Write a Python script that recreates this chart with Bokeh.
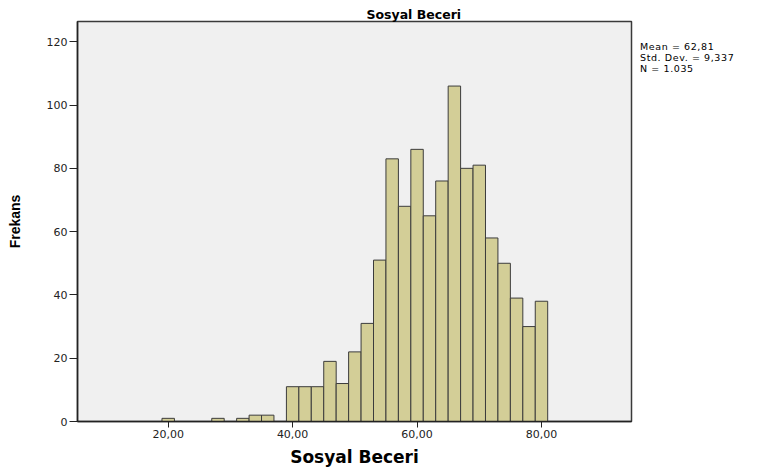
from bokeh.plotting import figure
from bokeh.models import Range1d, FixedTicker, Title, Div
from bokeh.layouts import row
from bokeh.embed import file_html
from bokeh.resources import INLINE

# ---- data ----
bin_centers = [20, 28, 32, 34, 36,
               40, 42, 44, 46, 48, 50, 52, 54, 56, 58, 60, 62, 64, 66, 68, 70,
               72, 74, 76, 78, 80]
counts = [1, 1, 1, 2, 2,
          11, 11, 11, 19, 12, 22, 31, 51, 83, 68, 86, 65, 76, 106, 80, 81,
          58, 50, 39, 30, 38]
x_ticks = [20, 40, 60, 80]
x_tick_labels = ["20,00", "40,00", "60,00", "80,00"]
y_ticks = [0, 20, 40, 60, 80, 100, 120]
y_tick_labels = ["0", "20", "40", "60", "80", "100", "120"]
stats_lines = ["Mean = 62,81", "Std. Dev. = 9,337", "N = 1.035"]
title_text = "Sosyal Beceri"
x_label = "Sosyal Beceri"
y_label = "Frekans"
bin_width = 2

X0, X1 = 5.42, 94.47
Y0, Y1 = 0, 126.4

p = figure(width=633, height=473, output_backend="svg", toolbar_location=None,
           x_range=Range1d(X0, X1), y_range=Range1d(Y0, Y1),
           min_border_left=77, min_border_right=2, min_border_top=21,
           min_border_bottom=52, margin=0)
p.background_fill_color = "#f0f0f0"
p.border_fill_color = "white"
p.outline_line_color = "#3a3a3a"
p.outline_line_width = 1.5
p.xgrid.visible = False
p.ygrid.visible = False

left = [c - bin_width / 2 for c in bin_centers]
right = [c + bin_width / 2 for c in bin_centers]
p.quad(left=left, right=right, bottom=0, top=counts,
       fill_color="#d3ce97", line_color="#3c3c3c", line_width=1)

# title
p.title = Title(text=title_text, align="left", offset=289,
                text_font="DejaVu Sans", text_font_size="12.5px",
                text_font_style="bold", text_color="black", standoff=0)

# axes
xa = p.xaxis[0]
xa.ticker = FixedTicker(ticks=x_ticks)
xa.major_label_overrides = {t: l for t, l in zip(x_ticks, x_tick_labels)}
xa.minor_tick_line_color = None
xa.major_tick_out = 6
xa.major_tick_in = 0
xa.major_tick_line_color = "#222222"
xa.axis_line_color = "#222222"
xa.axis_line_width = 1.5
xa.major_label_standoff = 2
xa.major_label_text_font = "DejaVu Sans"
xa.major_label_text_font_size = "11px"
xa.major_label_text_color = "#222222"
xa.axis_label = x_label
xa.axis_label_text_font = "DejaVu Sans"
xa.axis_label_text_font_size = "17px"
xa.axis_label_text_font_style = "bold"
xa.axis_label_text_color = "black"
xa.axis_label_standoff = 6

ya = p.yaxis[0]
ya.ticker = FixedTicker(ticks=y_ticks)
ya.major_label_overrides = {t: l for t, l in zip(y_ticks, y_tick_labels)}
ya.minor_tick_line_color = None
ya.major_tick_out = 8
ya.major_tick_in = 0
ya.major_tick_line_color = "#222222"
ya.axis_line_color = "#222222"
ya.axis_line_width = 1.5
ya.major_label_standoff = 2
ya.major_label_text_font = "DejaVu Sans"
ya.major_label_text_font_size = "11px"
ya.major_label_text_color = "#222222"
ya.axis_label = y_label
ya.axis_label_text_font = "Liberation Sans"
ya.axis_label_text_font_size = "14px"
ya.axis_label_text_font_style = "bold"
ya.axis_label_text_color = "black"
ya.axis_label_standoff = 21

# statistics text to the right of the frame
stats = Div(text="<br>".join(stats_lines), width=124, height=473, margin=0,
            styles={"font-family": "'DejaVu Sans', sans-serif", "font-size": "9.5px",
                    "letter-spacing": "0.6px",
                    "line-height": "11px", "color": "black",
                    "padding-top": "41px", "padding-left": "7px",
                    "white-space": "nowrap"})

layout = row(p, stats, spacing=0)
open("out.html", "w").write(file_html(layout, INLINE))
